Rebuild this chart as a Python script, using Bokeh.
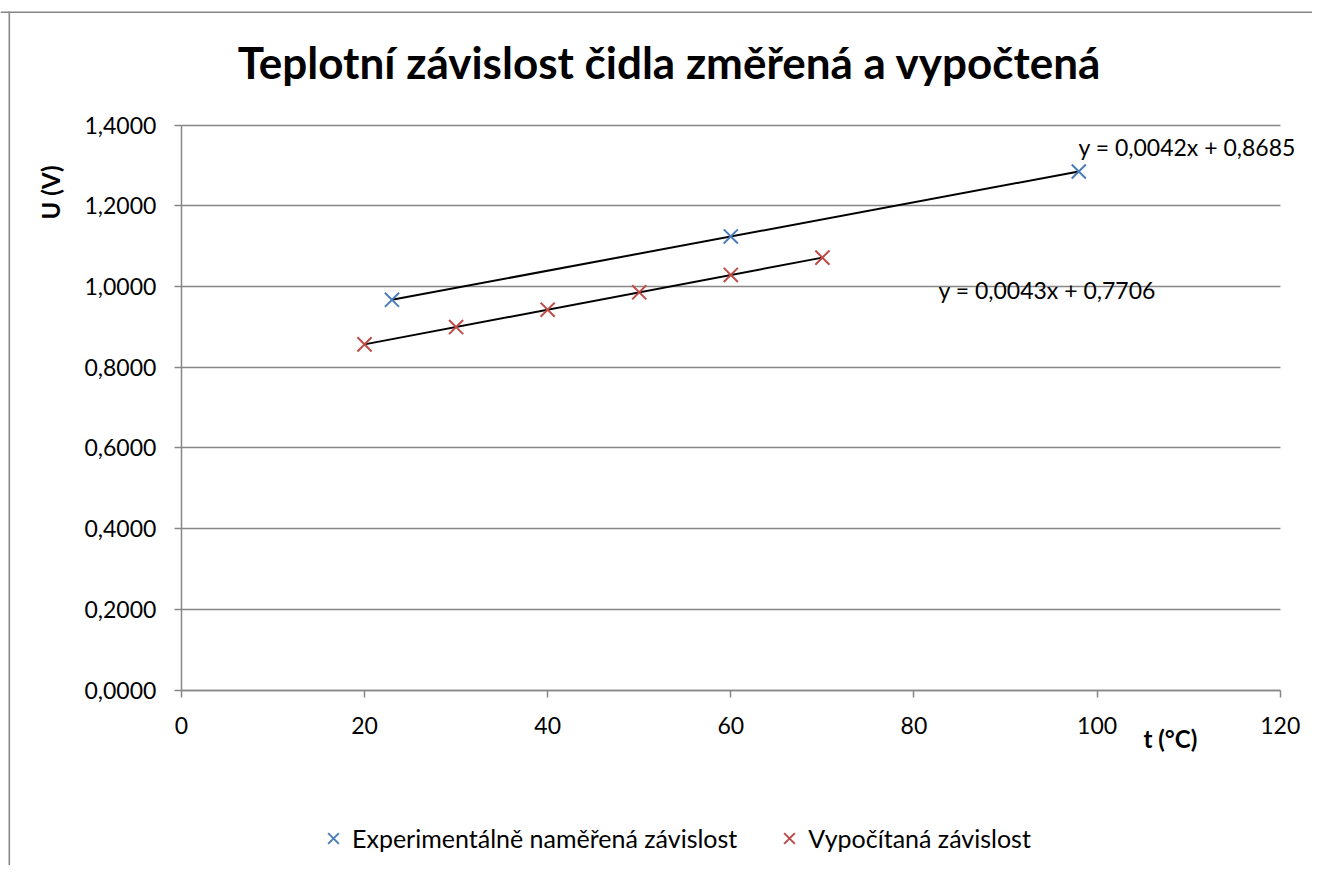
import numpy as np
from bokeh.plotting import figure
from bokeh.models import (Range1d, FixedTicker, CustomJSTickFormatter, Label,
                          Legend, LegendItem, BoxAnnotation, Grid, Span)
from bokeh.embed import file_html
from bokeh.resources import INLINE

# ---- data ----
exp_t = [23, 60, 98]
exp_u = [0.967, 1.124, 1.285]
calc_t = [20, 30, 40, 50, 60, 70]
calc_u = [0.8566, 0.8996, 0.9426, 0.9856, 1.0286, 1.0716]
x_ticks = [0, 20, 40, 60, 80, 100, 120]
y_ticks = [0.0, 0.2, 0.4, 0.6, 0.8, 1.0, 1.2, 1.4]

title_text = "Teplotní závislost čidla změřená a vypočtená"
xlabel_text = "t (°C)"
ylabel_text = "U (V)"
exp_name = "Experimentálně naměřená závislost"
calc_name = "Vypočítaná závislost"
eq_exp = "y = 0,0042x + 0,8685"
eq_calc = "y = 0,0043x + 0,7706"

BLUE = "#4a7ebb"
RED = "#be4b48"
GRAY = "#878787"
FONT = "Lato"

X_AX = (x_ticks[0], x_ticks[-1])
Y_AX = (y_ticks[0], y_ticks[-1])

# the frame covers the whole canvas; the axes sit at fixed data locations
p = figure(width=1312, height=865,
           x_range=Range1d(-19.749, 123.52), y_range=Range1d(-0.43494, 1.7088),
           output_backend="svg", toolbar_location=None,
           min_border=0, min_border_left=0, min_border_right=0,
           min_border_top=0, min_border_bottom=0)
p.outline_line_color = None
p.outline_line_alpha = 0
p.background_fill_color = "white"
p.border_fill_color = "white"

for ax in (p.xaxis[0], p.yaxis[0]):
    ax.axis_line_color = GRAY
    ax.axis_line_width = 1.5
    ax.major_tick_line_color = GRAY
    ax.major_tick_line_width = 1.5
    ax.major_tick_out = 7
    ax.major_tick_in = 0
    ax.minor_tick_line_color = None
    ax.major_label_text_font = FONT
    ax.major_label_text_font_size = "23px"
    ax.major_label_text_color = "black"
    ax.fixed_location = 0

p.xaxis.bounds = X_AX
p.yaxis.bounds = Y_AX
p.xaxis.ticker = FixedTicker(ticks=x_ticks)
p.yaxis.ticker = FixedTicker(ticks=y_ticks)
p.yaxis.formatter = CustomJSTickFormatter(code="return tick.toFixed(4).replace('.', ',');")
p.xaxis.major_label_standoff = 20
p.yaxis.major_label_standoff = 18

p.xgrid.grid_line_color = None
p.xgrid.visible = False
p.ygrid.ticker = FixedTicker(ticks=y_ticks)
if "cross_bounds" in Grid.properties():
    p.ygrid.cross_bounds = X_AX
    p.ygrid.grid_line_color = GRAY
    p.ygrid.grid_line_width = 1.5
else:
    p.ygrid.grid_line_color = None
    p.segment(x0=[X_AX[0]] * len(y_ticks), x1=[X_AX[1]] * len(y_ticks),
              y0=y_ticks, y1=y_ticks, line_color=GRAY, line_width=1.5)

# trend lines (least squares fits)
for xs, ys in ((exp_t, exp_u), (calc_t, calc_u)):
    k, q = np.polyfit(xs, ys, 1)
    xx = np.array([min(xs), max(xs)])
    p.line(xx, k * xx + q, line_color="black", line_width=2)

r_exp = p.scatter(exp_t, exp_u, marker="x", size=20, line_color=BLUE, line_width=2)
r_calc = p.scatter(calc_t, calc_u, marker="x", size=20, line_color=RED, line_width=2)

# texts
def lab(x, y, text, size, bold=False, align="left", baseline="alphabetic", angle=0):
    p.add_layout(Label(x=x, y=y, text=text, text_font=FONT, text_font_size=size,
                       text_font_style="bold" if bold else "normal",
                       text_color="black", text_align=align,
                       text_baseline=baseline, angle=angle))

lab(53.31, 1.5559, title_text, "44px", bold=True, align="center")
lab(-14.29, 1.233, ylabel_text, "24px", bold=True, align="center",
    baseline="middle", angle=np.pi / 2)
lab(108.0, -0.1205, xlabel_text, "24px", bold=True, align="center")
lab(97.97, 1.3457, eq_exp, "23px")
lab(82.68, 0.9913, eq_calc, "23px")

# legend
legend = Legend(items=[LegendItem(label=exp_name, renderers=[r_exp]),
                       LegendItem(label=calc_name, renderers=[r_calc])],
                orientation="horizontal", location=(314, 8),
                label_text_font=FONT, label_text_font_size="25px",
                label_text_color="black",
                glyph_width=38, glyph_height=38, label_standoff=0, spacing=33,
                padding=0, margin=0, border_line_color=None,
                background_fill_alpha=0)
p.add_layout(legend, "center")

# outer chart border (only its left and top edges are in view)
p.add_layout(BoxAnnotation(left=8, right=9.6, top=11, bottom=865,
                           left_units="canvas", right_units="canvas",
                           top_units="canvas", bottom_units="canvas",
                           fill_color=GRAY, fill_alpha=1, line_color=None,
                           line_alpha=0))
p.add_layout(Span(location=1.6796, dimension="width", line_color=GRAY,
                  line_width=1.6))

open("out.html", "w").write(file_html(p, INLINE))
